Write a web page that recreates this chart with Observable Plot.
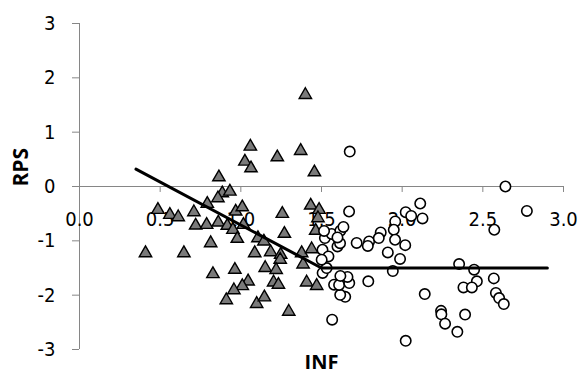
<!DOCTYPE html>
<html>
<head>
<meta charset="utf-8">
<script src="https://cdn.jsdelivr.net/npm/d3@7"></script>
<script src="https://cdn.jsdelivr.net/npm/@observablehq/plot@0.6"></script>
<style>
  html, body { margin: 0; padding: 0; background: #fff; }
  #chart svg { display: block; }
</style>
</head>
<body>
<div id="chart"></div>
<script>
// Series 1: triangles (INF, RPS)
const triX = [1.400,1.059,1.226,1.371,1.025,1.063,1.456,0.864,0.885,0.932,0.858,0.792,0.486,0.560,0.612,0.709,0.720,0.788,0.860,0.968,1.009,0.916,0.951,1.016,0.978,0.813,1.257,1.270,1.433,1.485,1.478,1.464,1.106,1.143,1.086,1.185,1.247,1.244,1.377,1.439,0.409,0.647,0.827,0.963,1.151,1.219,1.386,1.203,1.233,1.045,1.009,0.957,0.910,1.098,1.146,1.297,1.408,1.470];
const triY = [1.686,0.735,0.539,0.656,0.460,0.336,0.263,0.171,-0.123,-0.092,-0.215,-0.318,-0.428,-0.520,-0.564,-0.472,-0.717,-0.704,-0.662,-0.460,-0.381,-0.722,-0.796,-0.704,-0.961,-1.042,-0.502,-0.869,-0.349,-0.428,-0.583,-0.814,-0.950,-1.011,-1.226,-1.208,-1.256,-1.347,-1.226,-1.153,-1.226,-1.226,-1.612,-1.531,-1.498,-1.535,-1.434,-1.765,-1.807,-1.746,-1.833,-1.908,-2.092,-2.160,-2.040,-2.303,-1.765,-1.829];
// Series 2: circles (INF, RPS)
const cirX = [1.675,2.640,2.773,1.671,2.112,2.022,2.056,2.126,1.957,2.571,1.867,1.948,1.795,1.855,1.718,1.787,1.956,2.019,1.911,1.987,1.942,1.790,2.140,2.353,2.446,2.463,2.380,2.432,2.568,2.581,2.601,2.630,2.241,2.243,2.266,2.342,2.390,2.022,1.566,1.647,1.616,1.578,1.609,1.672,1.661,1.617,1.507,1.532,1.506,1.543,1.501,1.599,1.615,1.521,1.563,1.516,1.617,1.636,1.599];
const cirY = [0.643,0.000,-0.450,-0.460,-0.313,-0.472,-0.542,-0.588,-0.643,-0.796,-0.846,-0.796,-1.011,-0.950,-1.039,-1.094,-0.980,-1.079,-1.213,-1.333,-1.557,-1.746,-1.979,-1.428,-1.531,-1.746,-1.857,-1.857,-1.691,-1.958,-2.053,-2.164,-2.289,-2.353,-2.524,-2.675,-2.357,-2.840,-2.451,-2.031,-1.994,-1.807,-1.811,-1.778,-1.664,-1.645,-1.590,-1.502,-1.164,-1.287,-1.347,-1.103,-1.044,-0.950,-0.873,-0.818,-0.814,-0.744,-0.938];
// Fitted segmented line
const lineX = [0.35, 1.5, 2.9];
const lineY = [0.32, -1.5, -1.5];
// Ticks
const xTicks = [0.0, 0.5, 1.0, 1.5, 2.0, 2.5, 3.0];
const yTicks = [-3, -2, -1, 0, 1, 2, 3];
const xLabel = "INF";
const yLabel = "RPS";

const tri = triX.map((x, i) => ({x, y: triY[i]}));
const cir = cirX.map((x, i) => ({x, y: cirY[i]}));
const fit = lineX.map((x, i) => ({x, y: lineY[i]}));

const axisColor = "#868686";
const tickFont = "'Liberation Sans Narrow', 'DejaVu Sans Condensed', Roboto, sans-serif";

const chart = Plot.plot({
  width: 581,
  height: 376,
  marginLeft: 79,
  marginRight: 18,
  marginTop: 23,
  marginBottom: 27,
  style: {fontFamily: tickFont, fontSize: "20px", color: "#000", background: "#fff", overflow: "visible"},
  x: {domain: [0, 3], axis: null},
  y: {domain: [-3, 3]},
  marks: [
    Plot.ruleX([0], {y1: -3, y2: 3, stroke: axisColor, strokeWidth: 1}),
    Plot.ruleY([0], {x1: 0, x2: 3, stroke: axisColor, strokeWidth: 1}),
    Plot.ruleX(xTicks, {x: d => d, y1: 0, y2: -0.11, stroke: axisColor, strokeWidth: 1}),
    Plot.axisY(yTicks, {anchor: "left", tickSize: 7, tickPadding: 17, stroke: axisColor, fill: "#000", fontSize: 20, tickFormat: d => String(d), label: null}),
    Plot.text(xTicks, {x: d => d, y: 0, dy: 33, text: d => d.toFixed(1), fill: "#000", fontSize: 20, lineAnchor: "middle"}),
    Plot.dot(tri, {x: "x", y: "y", symbol: "triangle", r: 4.6, fill: "#7a7a7a", stroke: "#000", strokeWidth: 1.4}),
    Plot.dot(cir, {x: "x", y: "y", symbol: "circle", r: 5.2, fill: "#fff", stroke: "#000", strokeWidth: 1.6}),
    Plot.line(fit, {x: "x", y: "y", stroke: "#000", strokeWidth: 3}),
    Plot.text([yLabel], {frameAnchor: "left", dx: -58, rotate: -90, text: d => d, fontWeight: "bold", fontSize: 21, fontFamily: "'Open Sans', sans-serif", fill: "#000"}),
    Plot.text([xLabel], {frameAnchor: "bottom", dy: 13, text: d => d, fontWeight: "bold", fontSize: 20, fontFamily: "'Open Sans', sans-serif", fill: "#000", lineAnchor: "middle"})
  ]
});
document.getElementById("chart").appendChild(chart);
</script>
</body>
</html>
